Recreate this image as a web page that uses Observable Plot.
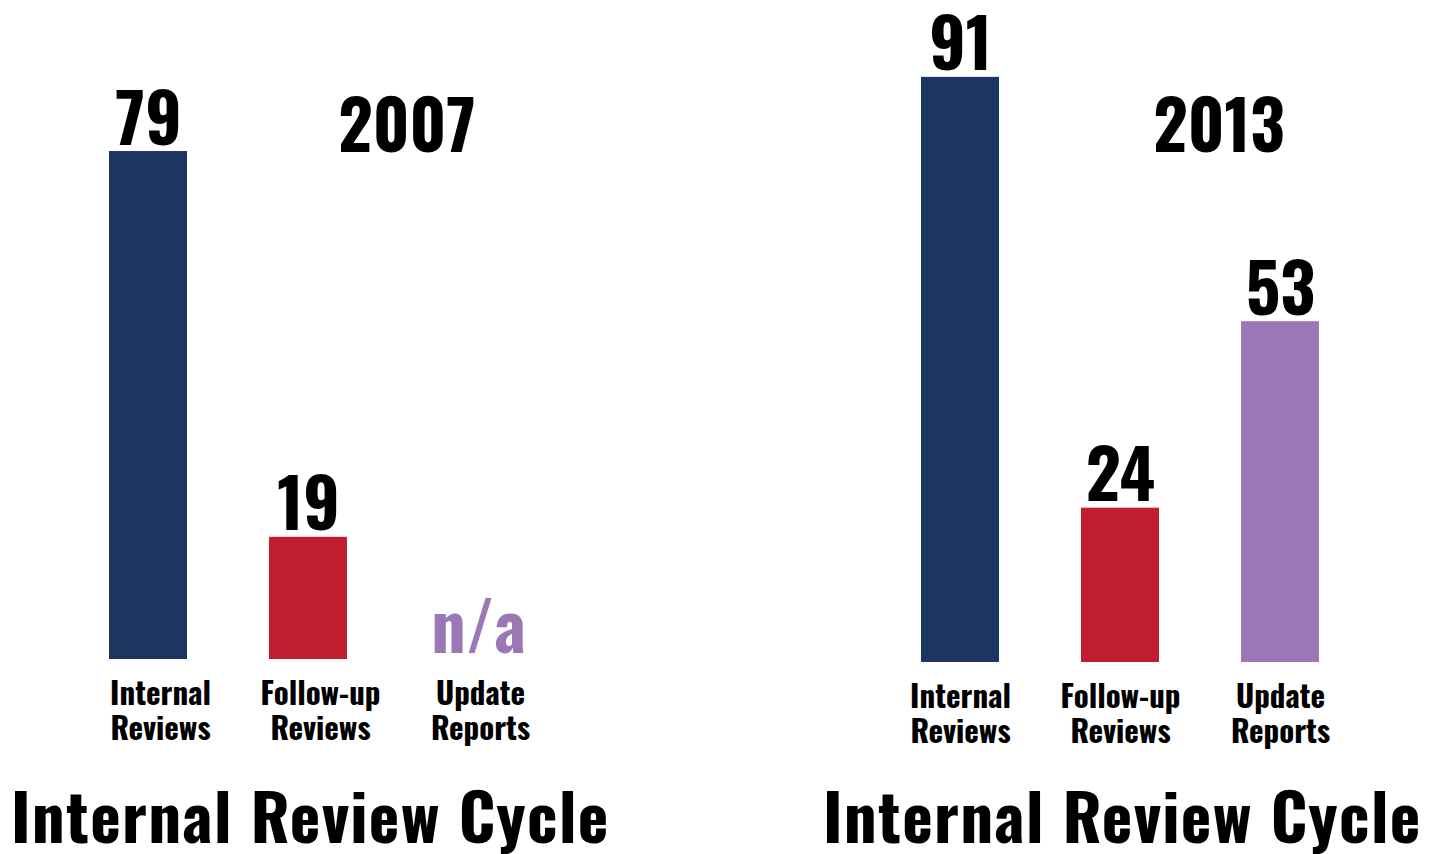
<!DOCTYPE html>
<html><head><meta charset="utf-8">
<script src="https://cdn.jsdelivr.net/npm/d3@7"></script>
<script src="https://cdn.jsdelivr.net/npm/@observablehq/plot@0.6"></script>
<style>
body{margin:0;background:#fff;}
#wrap{position:relative;width:1430px;height:854px;overflow:hidden;font-family:"Oswald","Open Sans",sans-serif;font-stretch:condensed;font-weight:bold;color:#000;}
.panel{position:absolute;top:0;width:715px;height:854px;}
.panel svg{overflow:visible;font-stretch:condensed;}
.year{position:absolute;font-size:67px;line-height:1;transform:translateX(-50%);white-space:nowrap;}
.title{position:absolute;font-size:65px;line-height:1;letter-spacing:1.3px;white-space:nowrap;}
</style></head>
<body><div id="wrap"></div>
<script>
const categories = ["Internal Reviews", "Follow-up Reviews", "Update Reports"];
const tickLabels = ["Internal\nReviews", "Follow-up\nReviews", "Update\nReports"];
const years = ["2007", "2013"];
const values2007 = [79, 19, null];
const values2013 = [91, 24, 53];
const naLabel = "n/a";
const chartTitle = "Internal Review Cycle";
const colors = ["#1d3562", "#be1e2d", "#9c77b5"];

const FONT = '"Oswald","Open Sans",sans-serif';
const layouts = [
  {left: 0, xRange: [68, 548], baseline: 659, labelDx: 12, naDx: 10, yearX: 407, titleX: 11},
  {left: 715, xRange: [165, 645], baseline: 662, labelDx: 0, naDx: 0, yearX: 504, titleX: 108}
];
const seriesValues = [values2007, values2013];

const wrap = document.getElementById("wrap");
years.forEach((year, i) => {
  const L = layouts[i];
  const data = categories.map((c, j) => ({category: c, label: tickLabels[j], value: seriesValues[i][j]}));
  const valid = data.filter(d => d.value != null);
  const missing = data.filter(d => d.value == null);
  const chart = Plot.plot({
    width: 715,
    height: 770,
    margin: 0,
    style: {fontFamily: FONT, background: "transparent"},
    x: {type: "band", domain: categories, range: L.xRange, paddingInner: 0.5125, paddingOuter: 0.25625, axis: null},
    y: {domain: [0, 100], range: [L.baseline, L.baseline - 643], axis: null},
    color: {domain: categories, range: colors},
    marks: [
      Plot.barY(valid, {x: "category", y: "value", fill: "category"}),
      Plot.text(valid, {x: "category", y: "value", text: d => String(d.value), lineAnchor: "bottom", dy: -7,
        fontSize: 68, fontWeight: "bold", fill: "#000"}),
      Plot.text(missing, {x: "category", y: () => 0, text: () => naLabel, lineAnchor: "bottom", dy: -7, dx: L.naDx,
        fontSize: 68, fontWeight: "bold", fill: colors[2]}),
      Plot.text(data, {x: "category", y: () => 0, text: "label", lineAnchor: "top", dy: 21, dx: L.labelDx,
        fontSize: 31, lineHeight: 1.13, fontWeight: "bold", fill: "#000"})
    ]
  });
  const panel = document.createElement("div");
  panel.className = "panel";
  panel.style.left = L.left + "px";
  panel.appendChild(chart);
  const y = document.createElement("div");
  y.className = "year";
  y.style.left = L.yearX + "px";
  y.style.top = "88px";
  y.textContent = year;
  panel.appendChild(y);
  const t = document.createElement("div");
  t.className = "title";
  t.style.left = L.titleX + "px";
  t.style.top = "781px";
  t.textContent = chartTitle;
  panel.appendChild(t);
  wrap.appendChild(panel);
});
</script>
</body></html>
